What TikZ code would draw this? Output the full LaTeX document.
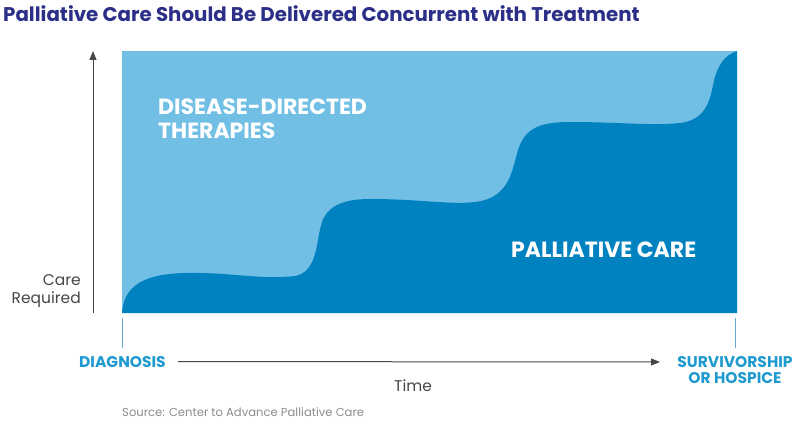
\documentclass[tikz,border=0pt]{standalone}
\usepackage{fontspec}
\setmainfont{Poppins}
\usetikzlibrary{positioning, arrows.meta}

\definecolor{titleblue}{RGB}{44,47,135}
\definecolor{lightarea}{RGB}{114,191,230}
\definecolor{darkarea}{RGB}{0,130,192}
\definecolor{marker}{RGB}{30,154,208}
\definecolor{tickline}{RGB}{100,170,205}
\definecolor{axisgray}{RGB}{70,70,70}
\definecolor{srcgray}{RGB}{140,140,140}

\tikzset{
  arealabel/.style={text=white, font=\fontsize{22}{24}\selectfont\bfseries, align=left, inner sep=0pt},
  endlabel/.style={text=marker, font=\fontsize{15.5}{16}\selectfont\bfseries, align=center, inner sep=0pt},
  axislabel/.style={text=axisgray, font=\fontsize{15.5}{18}\selectfont, inner sep=0pt},
}

\begin{document}
\begin{tikzpicture}[x=1pt, y=-1pt]
	\useasboundingbox (0,0) rectangle (800,422);

	% title
	\node[anchor=west, inner sep=0pt, text=titleblue, font=\fontsize{19.8}{24}\selectfont\bfseries] (title) at (3,14) {Palliative Care Should Be Delivered Concurrent with Treatment};

	% areas
	\fill[lightarea] (122,51) rectangle (737,313);
	\fill[darkarea] (122,313) .. controls (124,282) and (150,274) .. (185,273)
		.. controls (230,272) and (260,280) .. (295,276)
		.. controls (318,272) and (316,240) .. (322,222)
		.. controls (328,205) and (345,199) .. (370,199)
		.. controls (420,199) and (450,205) .. (475,202)
		.. controls (510,198) and (512,170) .. (518,150)
		.. controls (525,128) and (540,122) .. (570,122)
		.. controls (620,122) and (650,126) .. (680,123)
		.. controls (706,120) and (710,100) .. (713,85)
		.. controls (717,65) and (725,55) .. (737,51)
		-- (737,313) -- cycle;

	\node[arealabel, anchor=base west] (ddt) at (158,139) {DISEASE-DIRECTED\\THERAPIES};
	\node[arealabel, anchor=base west] (pc) at (511,257) {PALLIATIVE CARE};

	% vertical axis
	\coordinate (origin) at (93,313);
	\coordinate (ytop) at (93,51);
	\draw[axisgray, line width=1pt, -{Triangle[length=9pt, width=7pt]}] (origin) -- (ytop);
	\node[axislabel, anchor=base east] (care) at (81,285) {Care};
	\node[axislabel, anchor=base east] (req) at (81,303) {Required};

	% time axis
	\coordinate (t0) at (122,318);
	\coordinate (t0b) at (122,348);
	\coordinate (t1) at (735,318);
	\coordinate (t1b) at (735,348);
	\draw[tickline, line width=1pt] (t0) -- (t0b);
	\draw[tickline, line width=1pt] (t1) -- (t1b);

	\node[endlabel, anchor=base west] (diag) at (79,367) {DIAGNOSIS};
	\node[endlabel, anchor=base] (surv) at (735,383) {SURVIVORSHIP\\OR HOSPICE};
	\coordinate (tend) at (660,362);
	\draw[axisgray, line width=1pt, -{Triangle[length=9pt, width=7pt]}, shorten <=12pt] (diag.east) -- (tend);
	\node[axislabel, anchor=base] (time) at (413,391) {Time};

	% source
	\node[anchor=base west, inner sep=0pt, text=srcgray, font=\fontsize{11.6}{13}\selectfont] (src) at (122,416) {Source: Center to Advance Palliative Care};
\end{tikzpicture}
\end{document}
